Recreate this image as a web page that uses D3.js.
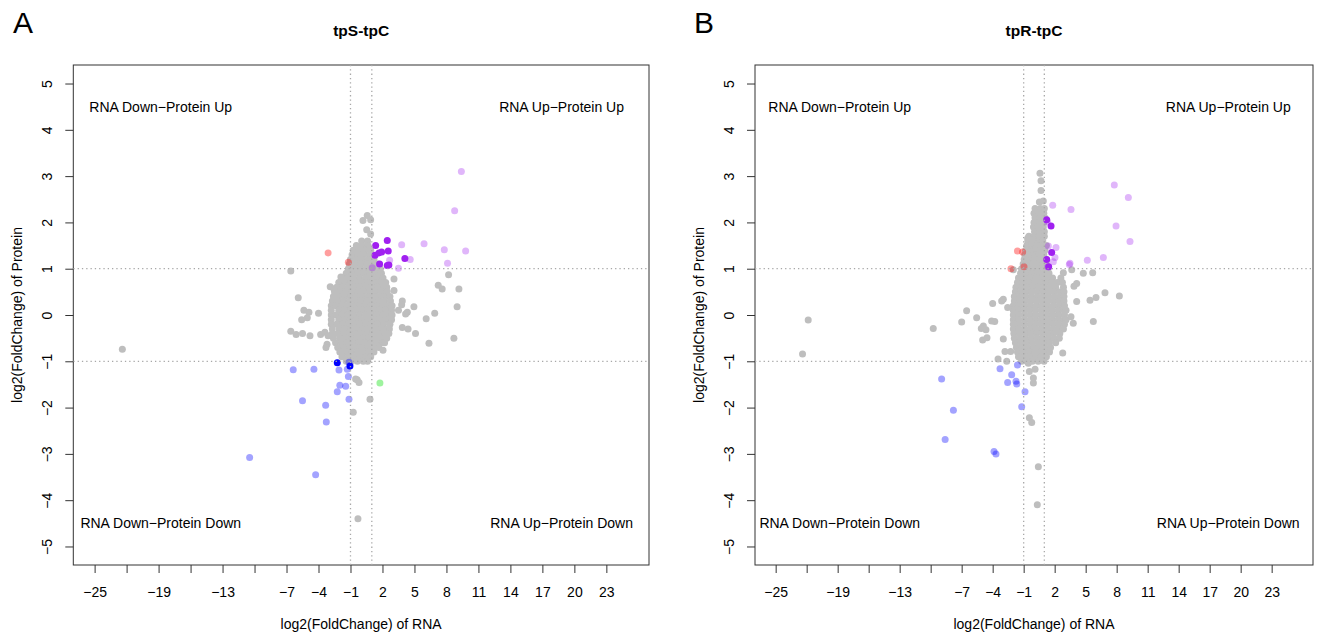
<!DOCTYPE html>
<html>
<head>
<meta charset="utf-8">
<script src="https://cdn.jsdelivr.net/npm/d3@7"></script>
<style>
  body { margin: 0; background: #fff; }
  svg { display: block; font-family: "Liberation Sans", Arial, Helvetica, sans-serif; }
</style>
</head>
<body>
<div id="chart"></div>
<script>
// ---- axis ticks / labels
const xTicks = [-25, -22, -19, -16, -13, -10, -7, -4, -1, 2, 5, 8, 11, 14, 17, 20, 23];
const xTickLabels = ["−25", "", "−19", "", "−13", "", "−7", "−4", "−1", "2", "5", "8", "11", "14", "17", "20", "23"];
const yTicks = [-5, -4, -3, -2, -1, 0, 1, 2, 3, 4, 5];
const thresholds = [-1, 1];
const quadrantLabels = [
  ["RNA Down−Protein Up", -18.8, 4.5],
  ["RNA Up−Protein Up", 18.8, 4.5],
  ["RNA Down−Protein Down", -18.8, -4.5],
  ["RNA Up−Protein Down", 18.8, -4.5]
];

// ---- panel A (tpS-tpC): dense gray core, one row per protein level [y, [x...]]
const grayRowsA = [
  [1.6, [0.05, 0.6]],
  [1.5, [-0.45, 0.1, 0.65]],
  [1.4, [-0.75, -0.2, 0.35, 0.9]],
  [1.3, [-0.85, -0.3, 0.25, 0.8]],
  [1.2, [-1.0, -0.45, 0.1, 0.65, 1.2]],
  [1.1, [-1.1, -0.55, 0.0, 0.55, 1.1, 1.55]],
  [1.0, [-1.2, -0.65, -0.1, 0.45, 1.0, 1.5, 1.8]],
  [0.9, [-1.4, -0.85, -0.3, 0.25, 0.8, 1.35, 1.9]],
  [0.8, [-1.8, -1.25, -0.7, -0.15, 0.4, 0.95, 1.5, 2.05]],
  [0.7, [-2.1, -1.55, -1.0, -0.45, 0.1, 0.65, 1.2, 1.75, 2.3]],
  [0.6, [-2.3, -1.75, -1.2, -0.65, -0.1, 0.45, 1.0, 1.55, 2.1, 2.4]],
  [0.5, [-2.5, -1.95, -1.4, -0.85, -0.3, 0.25, 0.8, 1.35, 1.9, 2.45]],
  [0.4, [-2.6, -2.1, -1.55, -1.0, -0.45, 0.1, 0.65, 1.2, 1.75, 2.3, 2.7]],
  [0.3, [-2.7, -2.2, -1.65, -1.1, -0.55, 0.0, 0.55, 1.1, 1.65, 2.2, 2.75]],
  [0.2, [-2.8, -2.35, -1.8, -1.25, -0.7, -0.15, 0.4, 0.95, 1.5, 2.05, 2.6, 2.9]],
  [0.1, [-2.8, -2.1, -1.55, -1.0, -0.45, 0.1, 0.65, 1.2, 1.75, 2.3, 2.85]],
  [0.0, [-2.8, -2.35, -1.8, -1.25, -0.7, -0.15, 0.4, 0.95, 1.5, 2.05, 2.6, 2.9]],
  [-0.1, [-2.8, -2.1, -1.55, -1.0, -0.45, 0.1, 0.65, 1.2, 1.75, 2.3, 2.85]],
  [-0.2, [-2.8, -2.3, -1.75, -1.2, -0.65, -0.1, 0.45, 1.0, 1.55, 2.1, 2.7]],
  [-0.3, [-2.7, -2.05, -1.5, -0.95, -0.4, 0.15, 0.7, 1.25, 1.8, 2.35, 2.65]],
  [-0.4, [-2.7, -2.2, -1.65, -1.1, -0.55, 0.0, 0.55, 1.1, 1.65, 2.2, 2.6]],
  [-0.5, [-2.6, -2.0, -1.45, -0.9, -0.35, 0.2, 0.75, 1.3, 1.85, 2.4]],
  [-0.6, [-2.4, -1.85, -1.3, -0.75, -0.2, 0.35, 0.9, 1.45, 2.0, 2.2]],
  [-0.7, [-2.2, -1.6, -1.05, -0.5, 0.05, 0.6, 1.15, 1.65]],
  [-0.8, [-2.0, -1.45, -0.9, -0.35, 0.2, 0.75, 1.2]],
  [-0.9, [-1.8, -1.2, -0.65, -0.1, 0.45, 0.9]],
  [-1.0, [-1.4, -0.9, -0.35, 0.2, 0.6]]
];
const grayA = [
  [0.57, 2.15], [0.17, 2.04], [0.89, 2.06], [0.52, 1.84], [0.89, 1.75],
  [-6.6, 0.95], [-1.9, 0.82], [-2.9, 0.61], [-2.55, 0.56], [-5.9, 0.37],
  [-5.37, 0.1], [-4.9, 0.06], [-4.0, 0.04], [-5.05, -0.06], [-5.58, -0.1],
  [-6.6, -0.35], [-6.1, -0.42], [-5.5, -0.4], [-4.8, -0.45], [-3.8, -0.42],
  [-3.4, -0.37], [-3.1, -0.45], [-3.2, -0.63], [-3.3, -0.7],
  [3.08, 0.78], [3.08, 0.53], [3.86, 0.3], [3.8, 0.22], [4.95, 0.18], [4.33, 0.06],
  [3.5, 0.1], [4.17, 0.02], [6.1, -0.08], [6.9, 0.04], [3.86, -0.27], [4.4, -0.3],
  [5.1, -0.4], [6.36, -0.61], [2.05, -0.76], [7.23, 0.64], [7.6, 0.56], [8.2, 0.87],
  [9.17, 0.56], [9.0, 0.18], [8.7, -0.5],
  [-0.37, -1.4], [-0.52, -1.38], [-0.2, -1.46], [0.83, -1.82], [-0.74, -2.1],
  [-0.3, -4.4], [-22.4, -0.74]
];
const purpleA = [[1.36, 1.5], [2.45, 1.61], [1.3, 1.29], [1.67, 1.34], [1.92, 1.36],
  [2.54, 1.38], [1.73, 1.1], [2.45, 1.07], [2.6, 1.08], [4.1, 1.22]];
const lightPurpleA = [[3.8, 1.52], [5.9, 1.54], [7.8, 1.41], [9.8, 1.38], [8.1, 1.12],
  [4.6, 1.2], [3.5, 1.01], [2.67, 1.18], [1.04, 1.02], [8.77, 2.25], [9.4, 3.1]];
const lightRedA = [[-3.1, 1.34], [-1.2, 1.14]];
const blueA = [[-2.24, -1.03], [-1.05, -1.1]];
const lightBlueA = [[-6.37, -1.18], [-4.43, -1.17], [-2.08, -1.19], [-1.3, -1.17],
  [-1.14, -1.02], [-1.2, -1.33], [-2.0, -1.52], [-1.45, -1.54], [-2.24, -1.66],
  [-1.14, -1.82], [-5.5, -1.85], [-3.33, -1.95], [-3.27, -2.31], [-10.46, -3.08], [-4.27, -3.45]];
const lightGreenA = [[1.76, -1.47]];

// ---- panel B (tpR-tpC)
const grayRowsB = [
  [2.3, [0.1, 0.6, 1.0]],
  [2.2, [0.0, 0.45, 0.95]],
  [2.1, [0.1, 0.6, 1.05]],
  [2.0, [0.0, 0.45, 0.95]],
  [1.9, [-0.05, 0.4, 0.9]],
  [1.8, [0.05, 0.55, 1.0]],
  [1.7, [-0.5, 0.0, 0.5, 1.0]],
  [1.6, [-0.6, -0.1, 0.35, 0.85]],
  [1.5, [-0.7, -0.2, 0.3, 0.8, 1.2]],
  [1.4, [-0.8, -0.3, 0.15, 0.6, 1.05]],
  [1.3, [-0.9, -0.4, 0.05, 0.5, 0.95]],
  [1.2, [-0.95, -0.45, 0.0, 0.45, 0.9, 1.2]],
  [1.1, [-1.05, -0.55, -0.1, 0.35, 0.8, 1.2]],
  [1.0, [-1.2, -0.65, -0.1, 0.45, 1.0, 1.35]],
  [0.9, [-1.3, -0.75, -0.2, 0.35, 0.9, 1.45]],
  [0.8, [-1.5, -0.95, -0.4, 0.15, 0.7, 1.25, 1.8, 2.6]],
  [0.7, [-1.6, -1.05, -0.5, 0.05, 0.6, 1.15, 1.7, 2.25, 2.75]],
  [0.6, [-1.75, -1.2, -0.65, -0.1, 0.45, 1.0, 1.55, 2.1, 2.85]],
  [0.5, [-1.8, -1.3, -0.75, -0.2, 0.35, 0.9, 1.45, 2.0, 2.55, 2.9]],
  [0.4, [-1.9, -1.35, -0.8, -0.25, 0.3, 0.85, 1.4, 1.95, 2.5, 2.9]],
  [0.3, [-1.9, -1.4, -0.85, -0.3, 0.25, 0.8, 1.35, 1.9, 2.45, 2.9]],
  [0.2, [-2.0, -1.45, -0.9, -0.35, 0.2, 0.75, 1.3, 1.85, 2.4, 2.95]],
  [0.1, [-2.0, -1.5, -0.95, -0.4, 0.15, 0.7, 1.25, 1.8, 2.35, 2.9, 3.1]],
  [0.0, [-2.0, -1.45, -0.9, -0.35, 0.2, 0.75, 1.3, 1.85, 2.4, 2.95]],
  [-0.1, [-2.0, -1.5, -0.95, -0.4, 0.15, 0.7, 1.25, 1.8, 2.35, 2.9, 3.1]],
  [-0.2, [-2.0, -1.45, -0.9, -0.35, 0.2, 0.75, 1.3, 1.85, 2.4, 2.95]],
  [-0.3, [-2.0, -1.5, -0.95, -0.4, 0.15, 0.7, 1.25, 1.8, 2.35, 2.85]],
  [-0.4, [-1.95, -1.4, -0.85, -0.3, 0.25, 0.8, 1.35, 1.9, 2.5]],
  [-0.5, [-1.9, -1.35, -0.8, -0.25, 0.3, 0.85, 1.4, 1.95, 2.45]],
  [-0.6, [-1.8, -1.25, -0.7, -0.15, 0.4, 0.95, 1.5, 2.1]],
  [-0.7, [-1.7, -1.15, -0.6, -0.05, 0.5, 1.05, 1.6]],
  [-0.8, [-1.6, -1.05, -0.5, 0.05, 0.6, 1.1, 1.5]],
  [-0.9, [-1.5, -0.95, -0.4, 0.15, 0.7, 1.2]],
  [-1.0, [-1.2, -0.7, -0.15, 0.4]]
];
const grayB = [
  [0.58, 3.06], [0.68, 2.9], [0.68, 2.69], [0.52, 2.44], [0.9, 2.46],
  [-0.61, 1.66], [-0.13, 1.63], [-0.39, 1.36], [-0.61, 1.29], [-0.77, 1.18],
  [-2.0, 0.98], [-1.19, 0.82], [2.84, 0.91], [3.65, 0.98], [4.77, 0.9], [5.68, 0.91],
  [3.87, 0.62], [4.13, 0.68], [6.87, 0.48], [8.26, 0.41], [6.0, 0.38], [5.42, 0.32],
  [4.13, 0.29], [5.74, -0.14], [3.8, -0.18], [3.58, -0.04], [2.78, -0.82],
  [-9.75, -0.29], [-6.52, 0.09], [-7.0, -0.15], [-5.55, -0.06], [-4.0, 0.25],
  [-3.13, 0.3], [-2.97, 0.34], [-2.55, 0.16], [-4.9, -0.24], [-4.65, -0.32],
  [-4.97, -0.54], [-4.55, -0.49], [-4.1, -0.13], [-3.8, -0.14], [-5.1, -0.29],
  [-2.97, -0.52], [-2.81, -0.79], [-2.26, -0.79], [-3.48, -0.95], [-2.64, -1.0],
  [-0.55, -1.04], [-0.45, -1.22], [0.1, -1.17], [0.97, -1.0], [-0.06, -1.36],
  [-0.06, -1.47], [-0.45, -2.22], [-0.22, -2.32], [0.42, -3.28], [0.32, -4.1],
  [-21.85, -0.11], [-22.4, -0.84]
];
const purpleB = [[1.23, 2.06], [1.65, 1.92], [1.71, 1.35], [1.23, 1.2], [1.42, 1.04]];
const lightPurpleB = [[1.81, 2.37], [3.58, 2.28], [7.77, 2.81], [9.13, 2.54], [7.94, 1.92],
  [9.29, 1.59], [1.39, 1.49], [2.13, 1.46], [2.03, 1.24], [1.87, 1.15], [3.48, 1.12],
  [3.42, 1.09], [5.16, 1.18], [6.71, 1.24], [1.32, 1.04], [1.32, 2.01]];
const lightRedB = [[-1.6, 1.38], [-1.1, 1.36], [-2.23, 1.0], [-0.97, 1.04]];
const lightBlueB = [[-8.94, -1.38], [-7.8, -2.06], [-8.6, -2.69], [-3.87, -2.95], [-3.68, -3.0],
  [-3.29, -1.16], [-2.16, -1.29], [-2.55, -1.46], [-1.74, -1.43], [-1.67, -1.49],
  [-1.6, -1.08], [-0.87, -1.66], [-1.19, -1.98]];

const pointStyle = {
  gray: ["#bebebe", 1],
  lightPurple: ["#a020f0", 0.33],
  purple: ["#a020f0", 1],
  lightBlue: ["#0000ff", 0.36],
  blue: ["#0000ff", 1],
  lightRed: ["#ff0000", 0.38],
  lightGreen: ["#00e000", 0.38]
};

const rowsToPoints = rows => rows.flatMap(([yv, xs]) => xs.map(xv => [xv, yv]));

const panels = [
  {
    letter: "A", title: "tpS-tpC", left: 73.3, right: 649, letterX: 13,
    groups: [
      ["gray", rowsToPoints(grayRowsA).concat(grayA)],
      ["lightPurple", lightPurpleA], ["purple", purpleA], ["lightRed", lightRedA],
      ["lightBlue", lightBlueA], ["blue", blueA], ["lightGreen", lightGreenA]
    ]
  },
  {
    letter: "B", title: "tpR-tpC", left: 755, right: 1313, letterX: 694,
    groups: [
      ["gray", rowsToPoints(grayRowsB).concat(grayB)],
      ["lightPurple", lightPurpleB], ["purple", purpleB], ["lightRed", lightRedB],
      ["lightBlue", lightBlueB]
    ]
  }
];

const svg = d3.select("#chart").append("svg")
  .attr("width", 1318)
  .attr("height", 637);

function drawPanel(p) {
  const top = 65, bottom = 565;
  const x = d3.scaleLinear().domain([-27, 27]).range([p.left, p.right]);
  const y = d3.scaleLinear().domain([-5.4, 5.4]).range([bottom, top]);
  const g = svg.append("g");

  // points, gray first then coloured groups on top
  p.groups.forEach(([key, pts]) => {
    const [fill, op] = pointStyle[key];
    g.append("g").selectAll("circle")
      .data(pts)
      .join("circle")
      .attr("cx", d => x(d[0]))
      .attr("cy", d => y(d[1]))
      .attr("r", 3.5)
      .attr("fill", fill)
      .attr("fill-opacity", op);
  });

  // box
  g.append("rect")
    .attr("x", p.left).attr("y", top)
    .attr("width", p.right - p.left).attr("height", bottom - top)
    .attr("fill", "none").attr("stroke", "#333").attr("stroke-width", 1);

  // threshold lines
  g.selectAll("line.vt").data(thresholds).join("line")
    .attr("x1", d => x(d)).attr("x2", d => x(d))
    .attr("y1", top).attr("y2", bottom);
  g.selectAll("line.ht").data(thresholds).join("line")
    .attr("x1", p.left).attr("x2", p.right)
    .attr("y1", d => y(d)).attr("y2", d => y(d));
  g.selectAll("line")
    .attr("stroke", "#a8a8a8").attr("stroke-width", 1.3)
    .attr("stroke-dasharray", "1.3 3");

  // x axis
  const xa = g.append("g").attr("transform", `translate(0,${bottom})`)
    .call(d3.axisBottom(x).tickValues(xTicks).tickFormat((d, i) => xTickLabels[i]).tickSize(8));
  xa.select(".domain").remove();
  xa.selectAll(".tick line").attr("stroke", "#333");
  xa.selectAll("text").attr("font-size", 14).attr("fill", "#000")
    .attr("font-family", "Liberation Sans, Arial, sans-serif")
    .attr("y", 32).attr("dy", 0);

  // y axis (labels parallel to axis, like R)
  const ya = g.append("g").attr("transform", `translate(${p.left},0)`)
    .call(d3.axisLeft(y).tickValues(yTicks).tickSize(8));
  ya.select(".domain").remove();
  ya.selectAll(".tick line").attr("stroke", "#333");
  ya.selectAll("text").attr("font-size", 14).attr("fill", "#000")
    .attr("font-family", "Liberation Sans, Arial, sans-serif")
    .attr("transform", "rotate(-90)")
    .attr("text-anchor", "middle")
    .attr("x", 0).attr("y", -21).attr("dy", 0);

  // quadrant captions
  g.selectAll("text.quad").data(quadrantLabels).join("text")
    .attr("class", "quad")
    .attr("x", d => x(d[1])).attr("y", d => y(d[2]))
    .attr("dy", "0.36em")
    .attr("text-anchor", "middle")
    .attr("font-size", 14)
    .text(d => d[0]);

  // axis titles
  const cx = (p.left + p.right) / 2;
  g.append("text").attr("x", cx).attr("y", 629)
    .attr("text-anchor", "middle").attr("font-size", 14)
    .text("log2(FoldChange) of RNA");
  g.append("text")
    .attr("transform", `translate(${p.left - 51},${(top + bottom) / 2}) rotate(-90)`)
    .attr("text-anchor", "middle").attr("font-size", 14)
    .text("log2(FoldChange) of Protein");

  // panel title + letter
  g.append("text").attr("x", cx).attr("y", 35.5)
    .attr("text-anchor", "middle").attr("font-size", 15.5).attr("font-weight", "bold")
    .text(p.title);
  g.append("text").attr("x", p.letterX).attr("y", 33)
    .attr("font-size", 30)
    .text(p.letter);
}

panels.forEach(drawPanel);
</script>
</body>
</html>
